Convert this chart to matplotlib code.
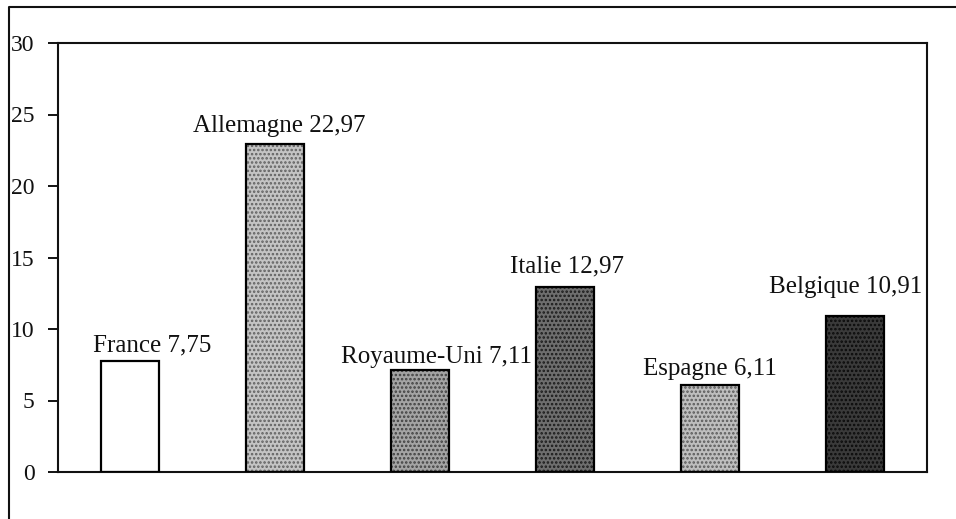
import matplotlib.pyplot as plt
from matplotlib.lines import Line2D

plt.rcParams["font.family"] = ["Liberation Serif", "DejaVu Serif"]
plt.rcParams["hatch.linewidth"] = 1.2

countries = ["France", "Allemagne", "Royaume-Uni", "Italie", "Espagne", "Belgique"]
values = [7.75, 22.97, 7.11, 12.97, 6.11, 10.91]
value_labels = ["7,75", "22,97", "7,11", "12,97", "6,11", "10,91"]
yticks = [0, 5, 10, 15, 20, 25, 30]

# textures of the scanned bars: base grey + dot colour
face_colors = ["white", "#c4c4c4", "#a4a4a4", "#6e6e6e", "#bebebe", "#3a3a3a"]
dot_colors = ["white", "#606060", "#404040", "#1a1a1a", "#5a5a5a", "#0a0a0a"]
hatches = ["", "....", "....", "....", "....", "...."]

# label placement (offsets from bar centre / bar top, data units)
label_dx = [0.15, 0.03, 0.11, 0.015, 0.0, -0.065]
label_dy = [0.65, 0.8, 0.5, 1.0, 0.67, 1.6]

fig = plt.figure(figsize=(9.56, 5.19), dpi=100)
ax = fig.add_axes([58 / 956, 47 / 519, 869 / 956, 429 / 519])

x = list(range(len(countries)))
for i in x:
    ax.bar(i, values[i], width=0.4, color=face_colors[i], edgecolor=dot_colors[i],
           hatch=hatches[i], linewidth=0, zorder=2)
ax.bar(x, values, width=0.4, facecolor="none", edgecolor="black", linewidth=1.6, zorder=3)

for i in x:
    ax.text(i + label_dx[i], values[i] + label_dy[i],
            f"{countries[i]} {value_labels[i]}",
            ha="center", va="baseline", fontsize=18, color="#111111")

ax.set_xlim(-0.5, 5.5)
ax.set_ylim(0, 30)
ax.set_yticks(yticks)
ax.set_yticklabels([str(t) for t in yticks], fontsize=17, color="#111111")
ax.set_xticks([])
ax.tick_params(axis="y", length=7, width=1.3, pad=10, direction="out")
for s in ax.spines.values():
    s.set_linewidth(1.5)
    s.set_color("#111111")

# outer frame of the scanned figure (only left and top edges visible)
fig.add_artist(Line2D([9 / 956, 9 / 956, 1.0], [0.0, 1 - 7 / 519, 1 - 7 / 519],
                      transform=fig.transFigure, color="#111111", linewidth=1.5))

fig.savefig("out.png", dpi=100)
